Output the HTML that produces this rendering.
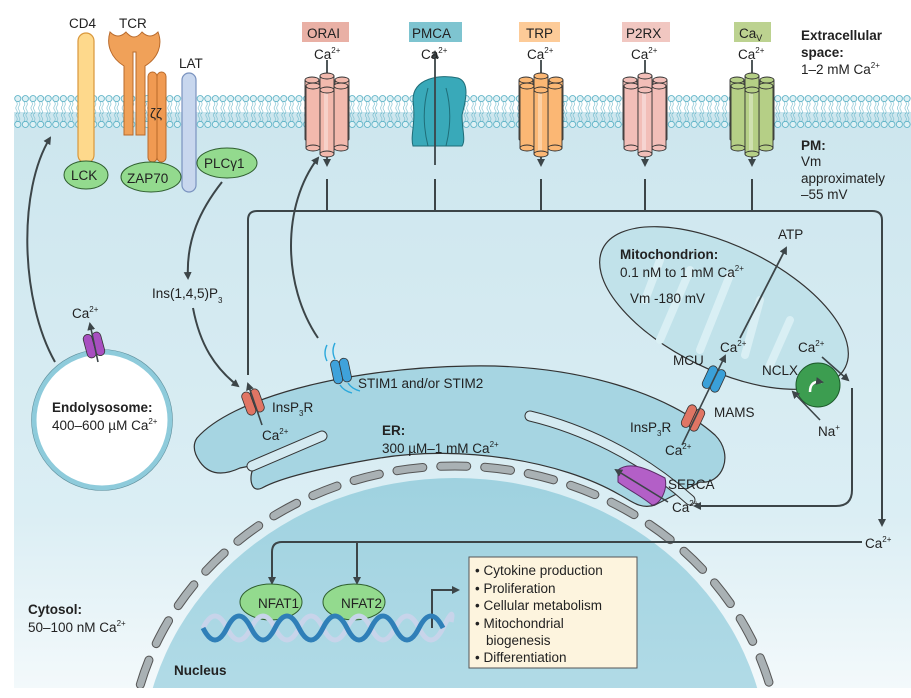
<!DOCTYPE html>
<html><head><meta charset="utf-8"><style>
html,body{margin:0;padding:0;background:#fff;width:911px;height:698px;overflow:hidden}
svg{display:block}
text{font-family:"Liberation Sans",sans-serif;font-size:13.5px;fill:#222}
.b{font-weight:bold}
</style></head><body>
<svg width="911" height="698" viewBox="0 0 911 698" xmlns="http://www.w3.org/2000/svg">
<defs>
<linearGradient id="cyt" x1="0" y1="0" x2="0" y2="1">
<stop offset="0" stop-color="#cde6ee"/><stop offset="0.7" stop-color="#dbeef4"/><stop offset="1" stop-color="#f3f9fb"/></linearGradient>
<linearGradient id="nuc" x1="0" y1="0" x2="0" y2="1">
<stop offset="0" stop-color="#9fd2e0"/><stop offset="1" stop-color="#cfe9f1"/></linearGradient>
<pattern id="mem" x="14" y="95" width="7.6" height="33" patternUnits="userSpaceOnUse">
<path d="M2.5 7 q1.5 2 0 4 t0 4 t0 4 M5 7 q1.5 2 0 4 t0 4 t0 4 M2.5 26 q1.5 -2 0 -4 t0 -4 M5 26 q1.5 -2 0 -4 t0 -4" fill="none" stroke="#6fb9cb" stroke-width="0.6"/>
<circle cx="3.8" cy="3.6" r="3.1" fill="#dff1f5" stroke="#54aec3" stroke-width="0.8"/>
<circle cx="3.8" cy="29.4" r="3.1" fill="#dff1f5" stroke="#54aec3" stroke-width="0.8"/>
</pattern>
<marker id="ar" markerWidth="8" markerHeight="8" refX="6" refY="4" orient="auto" markerUnits="userSpaceOnUse"><path d="M0 0 L8 4 L0 8 Z" fill="#3c4548"/></marker>
<g id="ch" stroke="#333" stroke-width="0.9">
<rect x="-22" y="2" width="14" height="60" rx="1" fill="currentColor"/><ellipse cx="-15" cy="2" rx="7" ry="3" fill="currentColor"/>
<rect x="8" y="2" width="14" height="60" rx="1" fill="currentColor"/><ellipse cx="15" cy="2" rx="7" ry="3" fill="currentColor"/>
<rect x="-7" y="-2" width="14" height="60" fill="currentColor"/><ellipse cx="0" cy="-2" rx="7" ry="3" fill="currentColor"/>
<rect x="-21" y="8" width="14" height="62" fill="currentColor"/><ellipse cx="-14" cy="8" rx="7" ry="3" fill="currentColor"/><ellipse cx="-14" cy="70" rx="7" ry="3" fill="currentColor"/>
<rect x="7" y="8" width="14" height="62" fill="currentColor"/><ellipse cx="14" cy="8" rx="7" ry="3" fill="currentColor"/><ellipse cx="14" cy="70" rx="7" ry="3" fill="currentColor"/>
<rect x="-7" y="12" width="14" height="64" fill="currentColor"/><rect x="-3" y="14" width="4" height="60" fill="#fff" opacity="0.35" stroke="none"/><ellipse cx="0" cy="12" rx="7" ry="3" fill="currentColor"/><ellipse cx="0" cy="76" rx="7" ry="3" fill="currentColor"/>
</g>
<g id="two" stroke="#333" stroke-width="0.8">
<rect x="-9" y="-12" width="9" height="24" rx="4.5" fill="currentColor"/>
<rect x="0" y="-12" width="9" height="24" rx="4.5" fill="currentColor"/>
</g>
</defs>

<rect x="14" y="112" width="897" height="576" fill="url(#cyt)"/>
<rect x="14" y="95" width="897" height="33" fill="url(#mem)"/>

<clipPath id="cl"><rect x="14" y="112" width="897" height="576"/></clipPath>
<g clip-path="url(#cl)">
<ellipse cx="455" cy="762" rx="313" ry="284" fill="url(#nuc)"/>
<ellipse cx="455" cy="762" rx="326" ry="296" fill="none" stroke="#555" stroke-width="9" stroke-dasharray="26 18" stroke-linecap="round"/>
<ellipse cx="455" cy="762" rx="326" ry="296" fill="none" stroke="#a9b1b4" stroke-width="7" stroke-dasharray="26 18" stroke-linecap="round"/>
</g>

<path d="M197 438 C230 400 340 368 470 366 C580 364 670 395 715 435 C735 455 722 485 700 482 L655 505 C640 510 630 500 620 495 C560 460 460 445 380 458 C320 468 280 478 262 488 C250 494 248 475 255 465 L240 468 C225 475 210 476 200 462 C193 452 193 444 197 438 Z" fill="#a6d5e2" stroke="#333" stroke-width="1.2"/>
<path d="M252 466 L322 436" stroke="#333" stroke-width="11" stroke-linecap="round"/>
<path d="M252 466 L322 436" stroke="#d4eaf1" stroke-width="9" stroke-linecap="round"/>
<path d="M530 416 C580 428 640 455 690 500" fill="none" stroke="#333" stroke-width="11" stroke-linecap="round"/>
<path d="M530 416 C580 428 640 455 690 500" fill="none" stroke="#d4eaf1" stroke-width="9" stroke-linecap="round"/>

<ellipse cx="724" cy="308" rx="135" ry="62" transform="rotate(26 724 308)" fill="#c1e2ea" stroke="#333" stroke-width="1.2"/>
<g fill="none" stroke="#d9eff4" stroke-width="8" stroke-linecap="round">
<path d="M660 340 L690 270 M700 350 L730 275 M745 355 L760 300 M770 365 L790 320 M660 260 L645 300"/>
</g>

<circle cx="102" cy="420" r="68" fill="#fff" stroke="#8ecbdb" stroke-width="5"/>
<circle cx="102" cy="420" r="70.5" fill="none" stroke="#5f8f9c" stroke-width="0.6"/>
<use href="#two" transform="translate(94 345) rotate(-15)" color="#a84fc0"/>
<path d="M98 362 L90 324" stroke="#3c4548" stroke-width="1.6" marker-end="url(#ar)"/>
<text x="72" y="318">Ca<tspan font-size="8" dy="-6">2+</tspan></text>
<text x="52" y="412" class="b">Endolysosome:</text>
<text x="52" y="430">400–600 µM Ca<tspan font-size="8" dy="-6">2+</tspan></text>

<g fill="none" stroke="#3c4548" stroke-width="2">
<path d="M55 362 C20 300 18 190 50 138" marker-end="url(#ar)"/>
<path d="M222 182 C200 210 186 240 188 278" marker-end="url(#ar)"/>
<path d="M193 308 C200 345 215 368 238 386" marker-end="url(#ar)"/>
<path d="M248 375 L248 220 Q248 211 257 211 L872 211 Q882 211 882 220 L882 525" marker-end="url(#ar)"/>
<path d="M318 338 C282 285 282 205 318 158" marker-end="url(#ar)"/>
<path d="M327 179 L327 211 M435 179 L435 211 M541 179 L541 211 M645 179 L645 211 M752 179 L752 211"/>
<path d="M862 542 L282 542 Q272 542 272 552 L272 583" marker-end="url(#ar)"/>
<path d="M357 542 L357 583" marker-end="url(#ar)"/>
<path d="M852 388 L852 490 Q852 506 836 506 L695 506" marker-end="url(#ar)"/>
<path d="M432 628 L432 590 L458 590" marker-end="url(#ar)"/>
</g>
<g stroke="#3c4548" stroke-width="1.8" fill="none">
<path d="M327 60 L327 165" marker-end="url(#ar)"/>
<path d="M541 60 L541 165" marker-end="url(#ar)"/>
<path d="M645 60 L645 165" marker-end="url(#ar)"/>
<path d="M752 60 L752 165" marker-end="url(#ar)"/>
</g>

<rect x="78" y="33" width="16" height="130" rx="8" fill="#fed98c" stroke="#d9973b" stroke-width="1.2"/>
<path d="M110 32 Q118 40 126 32 Q134 42 142 32 Q150 40 158 32 C163 45 158 58 145 66 L145 135 L136 135 L136 52 L133 52 L133 135 L124 135 L124 66 C111 58 106 45 110 32 Z" fill="#f0a159" stroke="#b96a2b" stroke-width="1"/>
<rect x="148" y="72" width="9" height="90" rx="4.5" fill="#f09a52" stroke="#b96a2b"/>
<rect x="157" y="72" width="9" height="90" rx="4.5" fill="#f09a52" stroke="#b96a2b"/>
<text x="150" y="118" font-size="11">ζζ</text>
<rect x="182" y="73" width="14" height="119" rx="7" fill="#c8d7ee" stroke="#7a93bf" stroke-width="1.2"/>
<g fill="#93da8e" stroke="#2f5e2f" stroke-width="1">
<ellipse cx="86" cy="175" rx="22" ry="14"/><ellipse cx="151" cy="177" rx="30" ry="15"/><ellipse cx="227" cy="163" rx="30" ry="15"/>
<ellipse cx="271" cy="602" rx="31" ry="18"/><ellipse cx="354" cy="602" rx="31" ry="18"/>
</g>
<text x="71" y="180">LCK</text><text x="127" y="183">ZAP70</text><text x="204" y="168">PLCγ1</text>
<text x="258" y="608" font-size="13">NFAT1</text><text x="341" y="608" font-size="13">NFAT2</text>
<text x="69" y="28">CD4</text><text x="119" y="28">TCR</text><text x="179" y="68">LAT</text>

<use href="#ch" transform="translate(327 78)" color="#f2b9ad"/>
<use href="#ch" transform="translate(541 78)" color="#fbb774"/>
<use href="#ch" transform="translate(645 78)" color="#f2beb8"/>
<use href="#ch" transform="translate(752 78)" color="#b5cf86"/>
<path d="M413 100 C413 78 440 74 458 78 C470 82 466 100 462 115 C462 130 466 140 462 146 L413 146 C410 135 416 125 413 100 Z" fill="#39a9b9" stroke="#1f6d78"/>
<path d="M428 88 C422 110 424 130 428 146 M446 88 C452 110 450 130 446 146" fill="none" stroke="#1f6d78"/>
<path d="M435 165 L435 52" stroke="#3c4548" stroke-width="1.8" marker-end="url(#ar)"/>

<rect x="302" y="22" width="47" height="20" fill="#e9b0a5"/><text x="307" y="38" font-size="14">ORAI</text>
<rect x="409" y="22" width="53" height="20" fill="#7ec4d0"/><text x="412" y="38" font-size="14">PMCA</text>
<rect x="519" y="22" width="41" height="20" fill="#fdcb98"/><text x="526" y="38" font-size="14">TRP</text>
<rect x="622" y="22" width="48" height="20" fill="#f1c7c1"/><text x="626" y="38" font-size="14">P2RX</text>
<rect x="734" y="22" width="37" height="20" fill="#bcd290"/><text x="739" y="38" font-size="14">Ca<tspan font-size="9" dy="3">V</tspan></text>
<g>
<text x="314" y="59">Ca<tspan font-size="8" dy="-6">2+</tspan></text>
<text x="421" y="59">Ca<tspan font-size="8" dy="-6">2+</tspan></text>
<text x="527" y="59">Ca<tspan font-size="8" dy="-6">2+</tspan></text>
<text x="631" y="59">Ca<tspan font-size="8" dy="-6">2+</tspan></text>
<text x="738" y="59">Ca<tspan font-size="8" dy="-6">2+</tspan></text>
</g>
<text x="801" y="40" class="b" font-size="14">Extracellular</text>
<text x="801" y="57" class="b" font-size="14">space:</text>
<text x="801" y="74">1–2 mM Ca<tspan font-size="8" dy="-6">2+</tspan></text>
<text x="801" y="150" class="b" font-size="14">PM:</text>
<text x="801" y="166">Vm</text><text x="801" y="183">approximately</text><text x="801" y="199">–55 mV</text>

<use href="#two" transform="translate(253 402) rotate(-20)" color="#e07564"/>
<path d="M262 425 L248 384" stroke="#3c4548" stroke-width="1.6" marker-end="url(#ar)"/>
<text x="272" y="412">InsP<tspan font-size="8" dy="4">3</tspan><tspan dy="-4">R</tspan></text>
<text x="262" y="440">Ca<tspan font-size="8" dy="-6">2+</tspan></text>
<path d="M327 345 q-4 8 0 16 M335 343 q-4 8 0 16 M340 385 q4 6 12 8 M348 383 q4 6 12 8" stroke="#2aa8dc" fill="none" stroke-width="1.4"/>
<use href="#two" transform="translate(341 371) rotate(-12)" color="#3fa2db"/>
<text x="358" y="388">STIM1 and/or STIM2</text>
<text x="382" y="435" class="b">ER:</text>
<text x="382" y="453">300 µM–1 mM Ca<tspan font-size="8" dy="-6">2+</tspan></text>
<text x="152" y="298">Ins(1,4,5)P<tspan font-size="8" dy="5">3</tspan></text>

<text x="620" y="259" class="b">Mitochondrion:</text>
<text x="620" y="277">0.1 nM to 1 mM  Ca<tspan font-size="8" dy="-6">2+</tspan></text>
<text x="630" y="303">Vm -180 mV</text>
<text x="778" y="239">ATP</text>
<path d="M740 338 L786 248" stroke="#3c4548" stroke-width="1.8" marker-end="url(#ar)"/>
<text x="720" y="352">Ca<tspan font-size="8" dy="-6">2+</tspan></text>
<use href="#two" transform="translate(714 379) rotate(25)" color="#3aa0d8"/>
<use href="#two" transform="translate(693 418) rotate(25)" color="#e07564"/>
<path d="M682 445 L725 356" stroke="#3c4548" stroke-width="1.6" marker-end="url(#ar)"/>
<text x="673" y="365">MCU</text><text x="714" y="417">MAMS</text>
<text x="630" y="432">InsP<tspan font-size="8" dy="4">3</tspan><tspan dy="-4">R</tspan></text>
<text x="665" y="455">Ca<tspan font-size="8" dy="-6">2+</tspan></text>
<text x="762" y="375">NCLX</text>
<text x="798" y="352">Ca<tspan font-size="8" dy="-6">2+</tspan></text>
<circle cx="818" cy="385" r="22" fill="#3c9d50" stroke="#1d5a2b"/>
<path d="M810 392 q0 -12 12 -10" fill="none" stroke="#fff" stroke-width="2.5" marker-end="url(#ar)"/>
<path d="M822 357 L848 380" stroke="#3c4548" stroke-width="1.6" marker-end="url(#ar)"/>
<path d="M820 420 L793 392" stroke="#3c4548" stroke-width="1.6" marker-end="url(#ar)"/>
<text x="818" y="436">Na<tspan font-size="8" dy="-6">+</tspan></text>
<path d="M618 470 C630 460 650 470 665 478 C668 490 660 505 652 505 C640 495 625 488 618 482 Z" fill="#b35fc7" stroke="#5a2a66"/>
<path d="M668 502 L616 470" stroke="#3c4548" stroke-width="1.6" marker-end="url(#ar)"/>
<text x="668" y="489">SERCA</text>
<text x="672" y="512">Ca<tspan font-size="8" dy="-6">2+</tspan></text>
<text x="865" y="548">Ca<tspan font-size="8" dy="-6">2+</tspan></text>

<g fill="none" stroke-width="5">
<path d="M203 628 q12 -24 24 0 t24 0 t24 0 t24 0 t24 0 t24 0 t24 0 t24 0 t24 0 t24 0 t8 -6" stroke="#c8d4ea"/>
<path d="M203 628 q12 24 24 0 t24 0 t24 0 t24 0 t24 0 t24 0 t24 0 t24 0 t24 0 t24 0" stroke="#2f7fb8"/>
</g>

<rect x="469" y="557" width="168" height="111" fill="#fdf4de" stroke="#555"/>
<g font-size="14">
<text x="475" y="575">• Cytokine production</text>
<text x="475" y="593">• Proliferation</text>
<text x="475" y="610">• Cellular metabolism</text>
<text x="475" y="628">• Mitochondrial</text>
<text x="486" y="645">biogenesis</text>
<text x="475" y="662">• Differentiation</text>
</g>
<text x="28" y="614" class="b">Cytosol:</text>
<text x="28" y="632">50–100 nM Ca<tspan font-size="8" dy="-6">2+</tspan></text>
<text x="174" y="675" class="b">Nucleus</text>
</svg>
</body></html>
